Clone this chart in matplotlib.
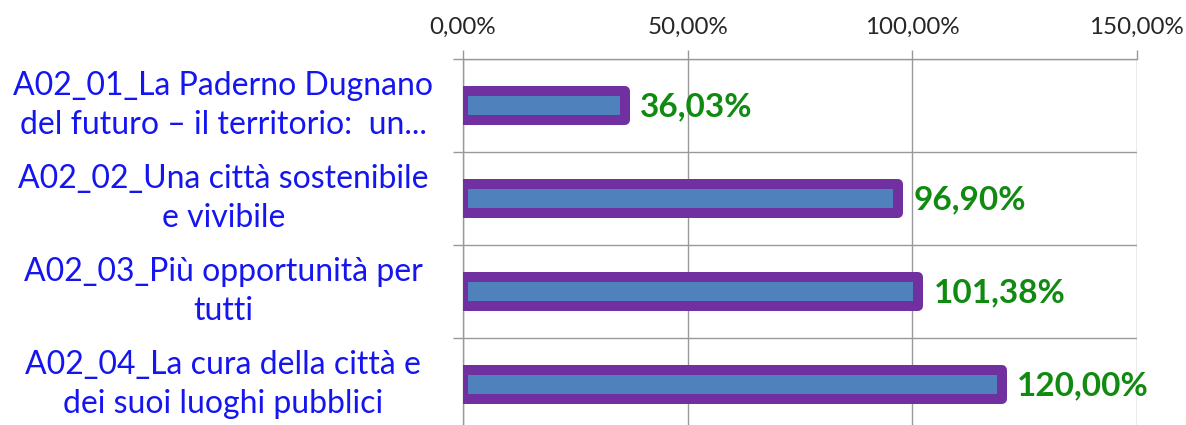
import numpy as np
import matplotlib
matplotlib.use('Agg')
import matplotlib.pyplot as plt
import matplotlib.transforms as mtransforms

plt.rcParams['font.family'] = ['Lato', 'DejaVu Sans']

categories = ['A02_01_La Paderno Dugnano\ndel futuro \u2013 il territorio:  un...',
              'A02_02_Una citt\u00e0 sostenibile\ne vivibile',
              'A02_03_Pi\u00f9 opportunit\u00e0 per\ntutti',
              'A02_04_La cura della citt\u00e0 e\ndei suoi luoghi pubblici']
values = [36.03, 96.90, 101.38, 120.00]
xticks = [0, 50, 100, 150]


def pct(v):
    return ('%.2f%%' % v).replace('.', ',')


fig = plt.figure(figsize=(11.86, 4.25), dpi=100)
ax = fig.add_axes([463 / 1186, -6 / 425, 673.5 / 1186, 372 / 425])

y = np.arange(len(categories))
bars = ax.barh(y, values, height=0.31, color='#4F81BD', edgecolor='#7030A0',
               linewidth=7.2, zorder=3)
for b in bars:
    b.set_joinstyle('round')

# value labels
for yi, v in zip(y, values):
    ax.annotate(pct(v), (v, yi), xytext=(11, -1), textcoords='offset points',
                ha='left', va='center', color='#108A10', fontsize=24,
                fontweight='bold', zorder=4)

ax.set_xlim(0, 150)
ax.set_ylim(len(categories) - 0.5, -0.5)

ax.xaxis.tick_top()
ax.set_xticks(xticks)
ax.set_xticklabels([pct(t) for t in xticks], fontsize=17.4, color='#262626')
ax.tick_params(axis='x', which='major', length=6.5, width=1, color='#999999',
               pad=9)
ax.grid(axis='x', color='#999999', linewidth=1, zorder=0)

ax.set_yticks([])
ax.set_yticks(np.arange(len(categories) + 1) - 0.5, minor=True)
ax.tick_params(axis='y', which='minor', length=7.5, width=1, color='#999999')
ax.grid(axis='y', which='minor', color='#999999', linewidth=1, zorder=0)

for side in ['right', 'bottom']:
    ax.spines[side].set_visible(False)
for side in ['top', 'left']:
    ax.spines[side].set_color('#999999')
    ax.spines[side].set_linewidth(1)

# category labels, centred multi-line like the original
trans = mtransforms.blended_transform_factory(ax.transAxes, ax.transData)
for yi, lab in zip(y, categories):
    ax.text(-0.356, yi, lab, transform=trans, ha='center', va='center',
            multialignment='center', fontsize=23, color='#1515F0',
            linespacing=1.35)

fig.savefig('out.png', dpi=100)
